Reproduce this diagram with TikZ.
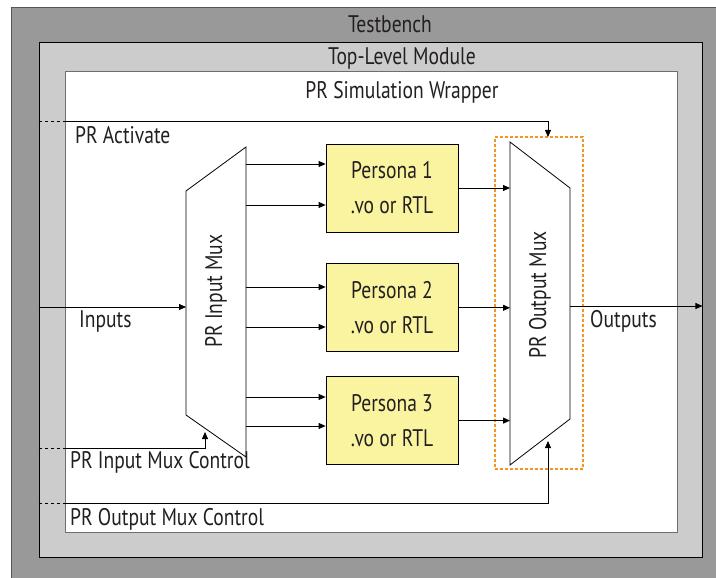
\documentclass[tikz,border=0pt]{standalone}
\usepackage{fontspec}
\setmainfont{PT Sans}[FakeStretch=0.815]
\usetikzlibrary{positioning, arrows.meta}
\definecolor{TBgrey}{RGB}{153, 153, 153}
\definecolor{TLgrey}{RGB}{204, 204, 204}
\definecolor{TBline}{RGB}{85, 85, 85}
\definecolor{WRline}{RGB}{110, 110, 110}
\definecolor{PRyellow}{RGB}{250, 244, 160}
\definecolor{PRorange}{RGB}{247, 148, 30}
\definecolor{PRtext}{RGB}{35, 31, 32}

\begin{document}
\begin{tikzpicture}[x=1pt, y=-1pt,
		txt/.style={inner sep=0pt, text=PRtext, font=\fontsize{24}{35}\selectfont},
		persona/.style={shape=rectangle, draw=black, fill=PRyellow, line width=0.8pt, minimum width=132pt, minimum height=88pt, inner sep=0pt, align=center, txt},
		arr/.style={-{Triangle[length=7pt, width=6pt]}, line width=0.8pt},
		ctl/.style={dashed, line width=0.8pt}]
		\clip (0,0) rectangle (716,578);
		
		% Frames
		\node[shape=rectangle, draw=TBline, fill=TBgrey, line width=0.8pt, minimum width=715pt, minimum height=583pt, inner sep=0pt] (tb) at (368.5,298.5) {};
		\node[shape=rectangle, draw=black, fill=TLgrey, line width=0.9pt, minimum width=663pt, minimum height=515pt, inner sep=0pt] (top) at (370.5,299.5) {};
		\node[shape=rectangle, draw=WRline, fill=white, line width=0.9pt, minimum width=612pt, minimum height=461pt, inner sep=0pt] (wrap) at (371,301.5) {};
		\node[txt, anchor=base] (tb-lbl) at (390,33) {Testbench};
		\node[txt, anchor=base] (top-lbl) at (402,65) {Top-Level Module};
		\node[txt, anchor=base] (wrap-lbl) at (402,99) {PR Simulation Wrapper};
		
		% Personas
		\node[persona] (p1) at (392,188) {Persona 1\\.vo or RTL};
		\node[persona, below=31pt of p1] (p2) {Persona 2\\.vo or RTL};
		\node[persona, below=24pt of p2] (p3) {Persona 3\\.vo or RTL};
		
		% Input mux
		\coordinate (im-tr) at (246,147);
		\coordinate (im-tl) at (186,191);
		\coordinate (im-bl) at (186,415);
		\coordinate (im-br) at (246,457);
		\draw[line width=0.8pt] (im-tr) -- (im-tl) -- (im-bl) -- (im-br) -- cycle;
		\node[txt, rotate=90] (im-lbl) at (216,291) {PR Input Mux};
		
		% Output mux
		\node[shape=rectangle, draw=PRorange, dash pattern=on 3pt off 2pt, line width=1.3pt, minimum width=88pt, minimum height=332pt, inner sep=0pt] (om-box) at (539,303) {};
		\coordinate (om-tl) at (510,142);
		\coordinate (om-tr) at (570,188);
		\coordinate (om-br) at (570,419);
		\coordinate (om-bl) at (510,465);
		\draw[line width=0.8pt] (om-tl) -- (om-tr) -- (om-br) -- (om-bl) -- cycle;
		\node[txt, rotate=90] (om-lbl) at (540,295) {PR Output Mux};
		
		% Mux to personas
		\draw[arr] (im-tr |- 0,164) -- (p1.west |- 0,164);
		\draw[arr] (im-tr |- 0,205) -- (p1.west |- 0,205);
		\draw[arr] (im-tr |- 0,287) -- (p2.west |- 0,287);
		\draw[arr] (im-tr |- 0,327) -- (p2.west |- 0,327);
		\draw[arr] (im-tr |- 0,397) -- (p3.west |- 0,397);
		\draw[arr] (im-tr |- 0,426) -- (p3.west |- 0,426);
		\draw[arr] (p1.east) -- (p1.east -| om-tl);
		\draw[arr] (p2.east) -- (p2.east -| om-tl);
		\draw[arr] (p3.east) -- (p3.east -| om-tl);
		
		% Inputs and outputs
		\draw[arr] (top.west |- 0,307) -- (im-tl |- 0,307);
		\draw[arr] (om-tr |- 0,306) -- (top.east |- 0,306);
		\node[txt, anchor=base west] (in-lbl) at (79,327) {Inputs};
		\node[txt, anchor=base west] (out-lbl) at (590,327) {Outputs};
		
		% Controls
		\coordinate (act) at (548,137);
		\coordinate (imc) at (205,432);
		\coordinate (omc) at (548,441);
		\draw[ctl] (top.west |- 0,121) -- (wrap.west |- 0,121);
		\draw[arr] (wrap.west |- 0,121) -| (act);
		\draw[ctl] (top.west |- 0,448) -- (wrap.west |- 0,448);
		\draw[arr] (wrap.west |- 0,448) -| (imc);
		\draw[ctl] (top.west |- 0,503) -- (wrap.west |- 0,503);
		\draw[arr] (wrap.west |- 0,503) -| (omc);
		\node[txt, anchor=base west] (act-lbl) at (75,143) {PR Activate};
		\node[txt, anchor=base west] (imc-lbl) at (70,468) {PR Input Mux Control};
		\node[txt, anchor=base west] (omc-lbl) at (70,525) {PR Output Mux Control};
	\end{tikzpicture}
\end{document}
